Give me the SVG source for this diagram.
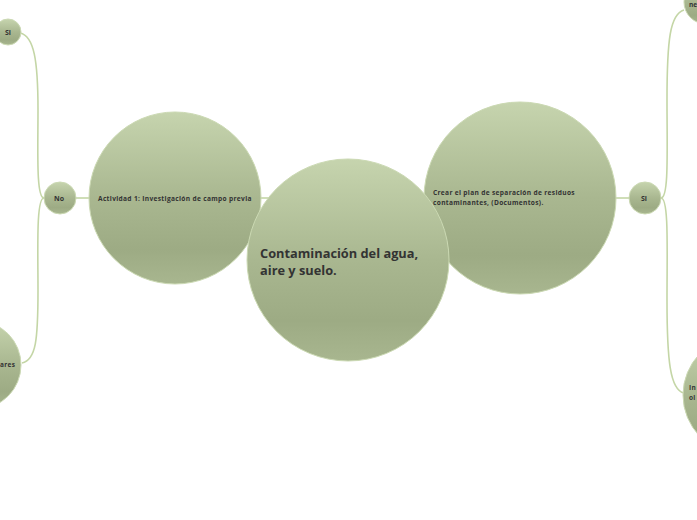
<svg xmlns="http://www.w3.org/2000/svg" width="697" height="520" viewBox="0 0 697 520">
<defs>
<linearGradient id="g" x1="0" y1="0" x2="0" y2="1">
<stop offset="0" stop-color="#c6d4ae"/>
<stop offset="0.5" stop-color="#a9b790"/>
<stop offset="0.8" stop-color="#9dab84"/>
<stop offset="1" stop-color="#a8b68f"/>
</linearGradient>
<style>
.n{fill:url(#g);stroke:#cbd9b3;stroke-width:1}
.c{fill:none;stroke:#c4d6a6;stroke-width:1.6}
.t{font-family:"Open Sans","Liberation Sans",sans-serif;font-weight:bold;fill:#333}
.s{letter-spacing:0.33px}
</style>
</defs>
<rect width="697" height="520" fill="#fff"/>
<g id="connectors">
<path class="c" d="M261 198 L270 198"/>
<path class="c" d="M424 198 L440 198"/>
<path class="c" d="M89 198 L76 198"/>
<path class="c" d="M44 198 C36 198 38 150 38 110 C38 60 34 36 20 33"/>
<path class="c" d="M44 198 C36 198 38 250 38 290 C38 340 36 360 22 363"/>
<path class="c" d="M661 198 C669 198 667 150 667 100 C667 40 670 14 684 10"/>
<path class="c" d="M661 198 C669 198 667 250 667 300 C667 360 670 390 684 393"/>
<path class="c" d="M616 198 L629 198"/>
</g>
<g id="node-bl"><circle class="n" cx="-23" cy="365" r="44"/><text class="t s" x="0" y="367" font-size="6.5">ares</text></g>
<g id="node-si-tl"><circle class="n" cx="8" cy="32" r="13"/><text class="t" x="5" y="35" font-size="7">Si</text></g>
<g id="node-tr"><circle class="n" cx="706" cy="2" r="22"/><text class="t" x="689" y="7" font-size="6.5">ne</text></g>
<g id="node-br"><circle class="n" cx="742" cy="395" r="59"/><text class="t s" x="689" y="390" font-size="6.5">In</text><text class="t s" x="689" y="400" font-size="6.5">ol</text></g>
<g id="node-no"><circle class="n" cx="60" cy="198" r="16"/><text class="t" x="54" y="201" font-size="7">No</text></g>
<g id="node-si-r"><circle class="n" cx="645" cy="198" r="16"/><text class="t" x="641" y="201" font-size="7">Si</text></g>
<g id="node-actividad"><circle class="n" cx="175" cy="198" r="86"/><text class="t s" x="98" y="201" font-size="6.6">Actividad 1: Investigación de campo previa</text></g>
<g id="node-crear"><circle class="n" cx="520" cy="198" r="96"/><text class="t s" x="433" y="195" font-size="6.6">Crear el plan de separación de residuos</text><text class="t s" x="433" y="205" font-size="6.6">contaminantes, (Documentos).</text></g>
<g id="node-central"><circle class="n" cx="348" cy="260" r="101"/><text class="t" x="260" y="258" font-size="12.8">Contaminación del agua,</text><text class="t" x="260" y="275" font-size="12.8">aire y suelo.</text></g>
</svg>
